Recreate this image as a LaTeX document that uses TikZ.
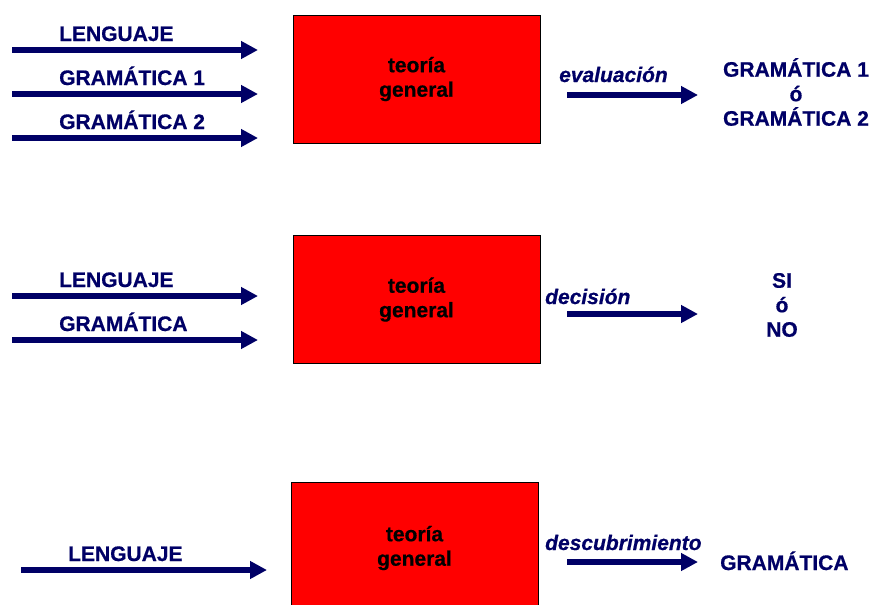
\documentclass[tikz,border=0pt]{standalone}
\usepackage{fontspec}
\setmainfont{Liberation Sans}[BoldFeatures={FakeBold=0.6}, BoldItalicFeatures={FakeBold=0.6}]
\usetikzlibrary{arrows.meta}
\definecolor{arrownavy}{RGB}{0,0,102}
\newcommand{\shaft}{6.5pt}
\newcommand{\labelfont}{\fontsize{21}{24.5}\selectfont\bfseries}

\begin{document}
\begin{tikzpicture}[x=1pt, y=-1pt,
    flow/.style={draw=arrownavy, line width=\shaft, -{Triangle[length=17pt,width=17pt]}},
    inlabel/.style={anchor=base west, inner sep=0pt, text=arrownavy, font=\labelfont},
    steplabel/.style={anchor=base west, inner sep=0pt, text=arrownavy, font=\labelfont\itshape},
    outlabel/.style={align=center, inner sep=0pt, text=arrownavy, font=\labelfont},
    theory/.style={draw=black, fill=red, line width=0.8pt, minimum width=247pt,
        minimum height=128pt, inner sep=0pt, align=center, font=\labelfont}]

    \clip (0,0) rectangle (873,605);
    \fill[white] (0,0) rectangle (873,605);

    %Evaluacion
    \node[theory] (t1) at (416.5,79) {teoría\\general};
    \foreach \y/\name/\txt in {50/la/LENGUAJE, 94/ga/GRAMÁTICA 1, 138/gb/GRAMÁTICA 2} {
        \coordinate (s\name) at (12,\y);
        \coordinate (e\name) at (258,\y);
        \node[inlabel] (\name) at (59,{\y-9}) {\txt};
        \draw[flow] (s\name) -- (e\name);
    }
    \coordinate (sev) at (567,95);
    \coordinate (eev) at (698,95);
    \node[steplabel] (ev) at (559,82) {evaluación};
    \draw[flow] (sev) -- (eev);
    \node[outlabel] (rev) at (796,92) {GRAMÁTICA 1\\ó\\GRAMÁTICA 2};

    %Decision
    \node[theory] (t2) at (416.5,299.5) {teoría\\general};
    \foreach \y/\name/\txt in {296/lb/LENGUAJE, 340/gc/GRAMÁTICA} {
        \coordinate (s\name) at (12,\y);
        \coordinate (e\name) at (258,\y);
        \node[inlabel] (\name) at (59,{\y-9}) {\txt};
        \draw[flow] (s\name) -- (e\name);
    }
    \coordinate (sde) at (567,314);
    \coordinate (ede) at (698,314);
    \node[steplabel] (de) at (545,304) {decisión};
    \draw[flow] (sde) -- (ede);
    \node[outlabel] (rde) at (782,305) {SI\\ó\\NO};

    %Descubrimiento
    \node[theory, minimum height=132pt] (t3) at (414.5,548) {teoría\\general};
    \coordinate (slc) at (21,570);
    \coordinate (elc) at (267,570);
    \node[inlabel] (lc) at (68,561) {LENGUAJE};
    \draw[flow] (slc) -- (elc);
    \coordinate (sds) at (567,562);
    \coordinate (eds) at (698,562);
    \node[steplabel] (ds) at (545,550) {descubrimiento};
    \draw[flow] (sds) -- (eds);
    \node[inlabel] (rds) at (720,570) {GRAMÁTICA};
\end{tikzpicture}
\end{document}
